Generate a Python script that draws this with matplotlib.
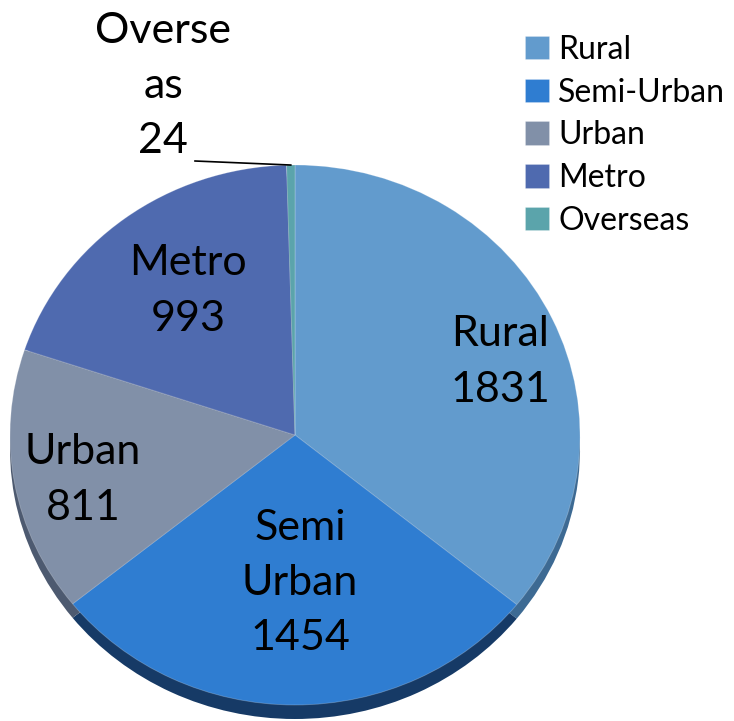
import numpy as np
import matplotlib
matplotlib.use('Agg')
import matplotlib.pyplot as plt

# data
categories = ['Rural', 'Semi-Urban', 'Urban', 'Metro', 'Overseas']
values = [1831, 1454, 811, 993, 24]
slice_labels = ['Rural\n1831', 'Semi\nUrban\n1454', 'Urban\n811', 'Metro\n993', 'Overse\nas\n24']

colors = ['#629bcd', '#2f7dd1', '#8190a8', '#4f6aaf', '#5ba4ab']
side_colors = ['#3d6a93', '#163a66', '#4d5a70', '#2b3d6e', '#356a70']

plt.rcParams['font.family'] = ['Lato', 'DejaVu Sans']

fig = plt.figure(figsize=(7.34, 7.21), dpi=100)
ax = fig.add_axes([0, 0, 1, 1])

# pixel layout of the (slightly flattened) pie
PX, PY, RX, RY = 295, 435, 285, 270
W, H = 734, 721

def to_data(px, py):
    return ((px - PX) / RX, (PY - py) / RY)

# 3d rim: same pie, shifted down and darker
ax.pie(values, colors=side_colors, startangle=90, counterclock=False,
       center=(0, -14 / RY), wedgeprops=dict(linewidth=0))
wedges, _ = ax.pie(values, colors=colors, startangle=90, counterclock=False,
                   wedgeprops=dict(linewidth=0.6, edgecolor=(1, 1, 1, 0.25)))

ax.set_aspect('auto')
ax.set_xlim(-PX / RX, (W - PX) / RX)
ax.set_ylim((PY - H) / RY, PY / RY)
ax.axis('off')

# label positions (pixels)
label_pos = [(500, 362), (300, 583), (83, 480), (188, 291), (163, 86)]
for lab, (px, py) in zip(slice_labels, label_pos):
    x, y = to_data(px, py)
    ax.text(x, y, lab, ha='center', va='center', fontsize=31,
            linespacing=1.55, color='black')

# leader line for the tiny Overseas slice
tot = sum(values)
ang = np.deg2rad(90 + values[-1] / tot * 360 / 2)
x0, y0 = to_data(195, 161)
ax.plot([x0, np.cos(ang)], [y0, np.sin(ang)], color='black', lw=1.2)

fig.legend(wedges, categories, loc='upper left',
           bbox_to_anchor=(512 / W, 1 - 22 / H), frameon=False,
           fontsize=23, handlelength=0.75, handleheight=0.75,
           handletextpad=0.3, labelspacing=0.4, borderaxespad=0)

fig.savefig('out.png', dpi=100)
